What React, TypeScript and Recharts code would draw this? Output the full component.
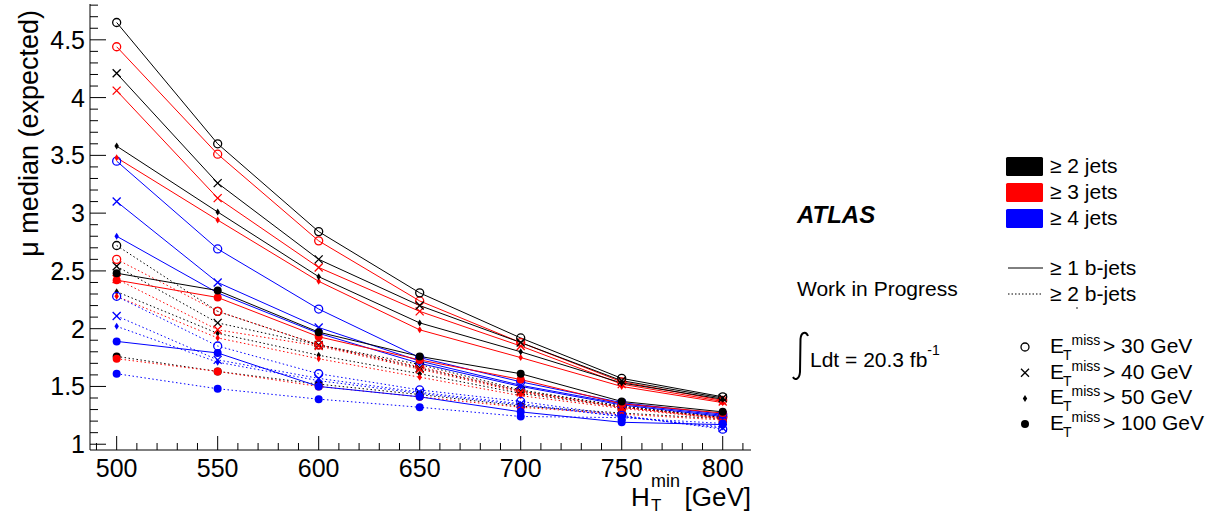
import React from 'react';
import { LineChart, Line, XAxis, YAxis } from 'recharts';

// HT^min points (GeV)
const htMin = [500, 550, 600, 650, 700, 750, 800];

// >= 2 jets, >= 1 b-jets
const j2b1Met30 = [4.65, 3.60, 2.84, 2.31, 1.92, 1.57, 1.41];
const j2b1Met40 = [4.21, 3.26, 2.60, 2.20, 1.88, 1.55, 1.40];
const j2b1Met50 = [3.58, 3.01, 2.45, 2.05, 1.80, 1.53, 1.39];
const j2b1Met100 = [2.48, 2.33, 1.97, 1.76, 1.61, 1.37, 1.28];

// >= 3 jets, >= 1 b-jets
const j3b1Met30 = [4.44, 3.51, 2.76, 2.24, 1.88, 1.54, 1.38];
const j3b1Met40 = [4.06, 3.13, 2.53, 2.15, 1.85, 1.52, 1.37];
const j3b1Met50 = [3.48, 2.94, 2.41, 1.99, 1.75, 1.50, 1.36];
const j3b1Met100 = [2.42, 2.27, 1.93, 1.73, 1.56, 1.35, 1.27];

// >= 4 jets, >= 1 b-jets
const j4b1Met30 = [3.45, 2.69, 2.17, 1.75, 1.54, 1.36, 1.26];
const j4b1Met40 = [3.10, 2.40, 2.01, 1.72, 1.51, 1.35, 1.25];
const j4b1Met50 = [2.80, 2.31, 1.96, 1.70, 1.50, 1.34, 1.24];
const j4b1Met100 = [1.89, 1.79, 1.50, 1.41, 1.28, 1.19, 1.17];

// >= 2 jets, >= 2 b-jets
const j2b2Met30 = [2.72, 2.15, 1.86, 1.69, 1.47, 1.33, 1.24];
const j2b2Met40 = [2.54, 2.05, 1.86, 1.66, 1.46, 1.33, 1.23];
const j2b2Met50 = [2.32, 1.96, 1.77, 1.61, 1.44, 1.32, 1.23];
const j2b2Met100 = [1.76, 1.63, 1.52, 1.43, 1.33, 1.27, 1.22];

// >= 3 jets, >= 2 b-jets
const j3b2Met30 = [2.60, 2.15, 1.86, 1.67, 1.46, 1.32, 1.23];
const j3b2Met40 = [2.43, 1.99, 1.85, 1.65, 1.45, 1.32, 1.22];
const j3b2Met50 = [2.28, 1.92, 1.74, 1.58, 1.42, 1.31, 1.22];
const j3b2Met100 = [1.74, 1.63, 1.50, 1.41, 1.32, 1.26, 1.21];

// >= 4 jets, >= 2 b-jets
const j4b2Met30 = [2.28, 1.85, 1.61, 1.47, 1.37, 1.25, 1.13];
const j4b2Met40 = [2.11, 1.73, 1.57, 1.45, 1.35, 1.24, 1.14];
const j4b2Met50 = [2.02, 1.71, 1.55, 1.44, 1.34, 1.24, 1.15];
const j4b2Met100 = [1.61, 1.48, 1.39, 1.32, 1.24, 1.23, 1.18];

const xMajor = [500, 550, 600, 650, 700, 750, 800];
const yMajor = [1, 1.5, 2, 2.5, 3, 3.5, 4, 4.5];

const jetLabels = ['≥ 2 jets', '≥ 3 jets', '≥ 4 jets'];
const bLabels = ['≥ 1 b-jets', '≥ 2 b-jets'];
const metLabels = ['> 30 GeV', '> 40 GeV', '> 50 GeV', '> 100 GeV'];

const BLACK = '#000000';
const RED = '#ff0000';
const BLUE = '#0000ff';

type MarkerKind = 'circle' | 'cross' | 'diamond' | 'dot';

const series: { key: string; values: number[]; color: string; dotted: boolean; marker: MarkerKind }[] = [
  { key: 'j2b2m30', values: j2b2Met30, color: BLACK, dotted: true, marker: 'circle' },
  { key: 'j2b2m40', values: j2b2Met40, color: BLACK, dotted: true, marker: 'cross' },
  { key: 'j2b2m50', values: j2b2Met50, color: BLACK, dotted: true, marker: 'diamond' },
  { key: 'j2b2m100', values: j2b2Met100, color: BLACK, dotted: true, marker: 'dot' },
  { key: 'j3b2m30', values: j3b2Met30, color: RED, dotted: true, marker: 'circle' },
  { key: 'j3b2m40', values: j3b2Met40, color: RED, dotted: true, marker: 'cross' },
  { key: 'j3b2m50', values: j3b2Met50, color: RED, dotted: true, marker: 'diamond' },
  { key: 'j3b2m100', values: j3b2Met100, color: RED, dotted: true, marker: 'dot' },
  { key: 'j4b2m30', values: j4b2Met30, color: BLUE, dotted: true, marker: 'circle' },
  { key: 'j4b2m40', values: j4b2Met40, color: BLUE, dotted: true, marker: 'cross' },
  { key: 'j4b2m50', values: j4b2Met50, color: BLUE, dotted: true, marker: 'diamond' },
  { key: 'j4b2m100', values: j4b2Met100, color: BLUE, dotted: true, marker: 'dot' },
  { key: 'j4b1m30', values: j4b1Met30, color: BLUE, dotted: false, marker: 'circle' },
  { key: 'j4b1m40', values: j4b1Met40, color: BLUE, dotted: false, marker: 'cross' },
  { key: 'j4b1m50', values: j4b1Met50, color: BLUE, dotted: false, marker: 'diamond' },
  { key: 'j4b1m100', values: j4b1Met100, color: BLUE, dotted: false, marker: 'dot' },
  { key: 'j3b1m30', values: j3b1Met30, color: RED, dotted: false, marker: 'circle' },
  { key: 'j3b1m40', values: j3b1Met40, color: RED, dotted: false, marker: 'cross' },
  { key: 'j3b1m50', values: j3b1Met50, color: RED, dotted: false, marker: 'diamond' },
  { key: 'j3b1m100', values: j3b1Met100, color: RED, dotted: false, marker: 'dot' },
  { key: 'j2b1m30', values: j2b1Met30, color: BLACK, dotted: false, marker: 'circle' },
  { key: 'j2b1m40', values: j2b1Met40, color: BLACK, dotted: false, marker: 'cross' },
  { key: 'j2b1m50', values: j2b1Met50, color: BLACK, dotted: false, marker: 'diamond' },
  { key: 'j2b1m100', values: j2b1Met100, color: BLACK, dotted: false, marker: 'dot' },
];

const data = htMin.map((ht, i) => {
  const row: Record<string, number> = { ht };
  series.forEach((s) => {
    row[s.key] = s.values[i];
  });
  return row;
});

// frame of the plot (pixels)
const W = 1208;
const H = 515;
const PLOT = { left: 90, right: 751, top: 4, bottom: 450 };
const FONT = '"Liberation Sans", Arial, Helvetica, sans-serif';

// minor ticks every 10 GeV / every 0.1
const xTicks: number[] = [];
for (let v = 490; v <= 810; v += 10) xTicks.push(v);
const yTicks: number[] = [];
for (let i = 10; i <= 48; i++) yTicks.push(i / 10);
const isYMajor = (v: number) => yMajor.some((m) => Math.abs(m - v) < 1e-6);

function Marker({ cx, cy, kind, color }: { cx?: number; cy?: number; kind: MarkerKind; color: string }) {
  if (cx == null || cy == null) return null;
  if (kind === 'circle') return <circle cx={cx} cy={cy} r={4} fill="none" stroke={color} strokeWidth={1.3} />;
  if (kind === 'cross')
    return (
      <path
        d={`M${cx - 4},${cy - 4}L${cx + 4},${cy + 4}M${cx - 4},${cy + 4}L${cx + 4},${cy - 4}`}
        stroke={color}
        strokeWidth={1.3}
      />
    );
  if (kind === 'diamond')
    return <path d={`M${cx},${cy - 3.5}L${cx + 2.2},${cy}L${cx},${cy + 3.5}L${cx - 2.2},${cy}Z`} fill={color} />;
  return <circle cx={cx} cy={cy} r={4} fill={color} />;
}

const BottomTick = (props: any) => {
  const { x, payload } = props;
  const major = xMajor.includes(payload.value);
  return (
    <g>
      <line x1={x} x2={x} y1={PLOT.bottom} y2={PLOT.bottom - (major ? 14 : 7)} stroke="#000" />
      {major && (
        <text x={x} y={477} textAnchor="middle" fontSize={25} fill="#000" fontFamily={FONT}>
          {payload.value}
        </text>
      )}
    </g>
  );
};

const TopTick = (props: any) => {
  const { x, payload } = props;
  const major = xMajor.includes(payload.value);
  return <line x1={x} x2={x} y1={PLOT.top} y2={PLOT.top + (major ? 14 : 7)} stroke="#000" />;
};

const LeftTick = (props: any) => {
  const { y, payload } = props;
  const major = isYMajor(payload.value);
  return (
    <g>
      <line x1={PLOT.left} x2={PLOT.left + (major ? 16 : 8)} y1={y} y2={y} stroke="#000" />
      {major && (
        <text x={85} y={y + 9} textAnchor="end" fontSize={25} fill="#000" fontFamily={FONT}>
          {payload.value}
        </text>
      )}
    </g>
  );
};

const RightTick = (props: any) => {
  const { y, payload } = props;
  const major = isYMajor(payload.value);
  return <line x1={PLOT.right} x2={PLOT.right - (major ? 16 : 8)} y1={y} y2={y} stroke="#000" />;
};

function Annotations() {
  const legendX = 1050;
  return (
    <svg width={W} height={H} style={{ position: 'absolute', left: 0, top: 0, pointerEvents: 'none' }} fontFamily={FONT}>
      {/* y axis title */}
      <text x={38} y={10} transform="rotate(-90 38 10)" textAnchor="end" fontSize={27} fill="#000">
        μ median (expected)
      </text>
      {/* x axis title: H_T^min [GeV] */}
      <text x={631} y={506} fontSize={26} fill="#000">H</text>
      <text x={651} y={511} fontSize={17} fill="#000">T</text>
      <text x={651} y={487} fontSize={18} fill="#000">min</text>
      <text x={751} y={506} textAnchor="end" fontSize={26} fill="#000">[GeV]</text>

      <text x={797} y={223} fontSize={24} fontWeight="bold" fontStyle="italic" fill="#000">
        ATLAS
      </text>
      <text x={797} y={296} fontSize={21} fill="#000">
        Work in Progress
      </text>
      <path
        d="M808,336 C806,331 801,332 800.5,339 L800,372 C799.5,379 795,381 793,377"
        fill="none"
        stroke="#000"
        strokeWidth={2}
      />
      <text x={810} y={367} fontSize={21} fill="#000">
        Ldt = 20.3 fb
        <tspan fontSize={14} dy={-12}>-1</tspan>
      </text>

      {[BLACK, RED, BLUE].map((c, i) => (
        <g key={c}>
          <rect x={1006} y={157 + i * 26} width={37} height={19} rx={1.5} fill={c} />
          <text x={legendX} y={173 + i * 26} fontSize={21} fill="#000">
            {jetLabels[i]}
          </text>
        </g>
      ))}

      <line x1={1008} x2={1043} y1={268} y2={268} stroke="#000" strokeWidth={1} />
      <text x={legendX} y={275} fontSize={21} fill="#000">
        {bLabels[0]}
      </text>
      <line x1={1008} x2={1043} y1={294} y2={294} stroke="#000" strokeWidth={1} strokeDasharray="1.5 2" />
      <text x={legendX} y={301} fontSize={21} fill="#000">
        {bLabels[1]}
      </text>
      <circle cx={1077} cy={308} r={0.8} fill="#000" />

      {(['circle', 'cross', 'diamond', 'dot'] as MarkerKind[]).map((k, i) => {
        const base = 353 + i * 25.7;
        return (
          <g key={k}>
            <Marker cx={1025} cy={base - 6} kind={k} color="#000" />
            <text x={legendX} y={base} fontSize={21} fill="#000">E</text>
            <text x={legendX + 13} y={base + 7} fontSize={14} fill="#000">T</text>
            <text x={legendX + 21.5} y={base - 8} fontSize={14} fill="#000">miss</text>
            <text x={legendX + 53} y={base} fontSize={21} fill="#000">{metLabels[i]}</text>
          </g>
        );
      })}
    </svg>
  );
}

export default function App() {
  return (
    <div style={{ position: 'absolute', left: 0, top: 0, width: W, height: H, background: '#fff', fontFamily: FONT }}>
      <LineChart
        width={W}
        height={H}
        data={data}
        margin={{ top: PLOT.top, right: W - PLOT.right, bottom: H - PLOT.bottom - 30, left: 0 }}
      >
        <XAxis
          xAxisId="bottom"
          dataKey="ht"
          type="number"
          domain={[486.8, 814]}
          allowDataOverflow
          ticks={xTicks}
          interval={0}
          height={30}
          axisLine={{ stroke: '#000', strokeWidth: 1 }}
          tickLine={false}
          tick={BottomTick}
        />
        <XAxis
          xAxisId="top"
          orientation="top"
          dataKey="ht"
          type="number"
          domain={[486.8, 814]}
          allowDataOverflow
          ticks={xTicks}
          interval={0}
          height={0}
          axisLine={{ stroke: '#000', strokeWidth: 1 }}
          tickLine={false}
          tick={TopTick}
        />
        <YAxis
          yAxisId="left"
          type="number"
          domain={[0.95, 4.81]}
          allowDataOverflow
          ticks={yTicks}
          interval={0}
          width={PLOT.left}
          axisLine={{ stroke: '#000', strokeWidth: 1 }}
          tickLine={false}
          tick={LeftTick}
        />
        <YAxis
          yAxisId="right"
          orientation="right"
          type="number"
          domain={[0.95, 4.81]}
          allowDataOverflow
          ticks={yTicks}
          interval={0}
          width={0}
          axisLine={{ stroke: '#000', strokeWidth: 1 }}
          tickLine={false}
          tick={RightTick}
        />
        {series.map((s) => (
          <Line
            key={s.key}
            xAxisId="bottom"
            yAxisId="left"
            type="linear"
            dataKey={s.key}
            stroke={s.color}
            strokeWidth={1}
            strokeDasharray={s.dotted ? '1.5 2.5' : undefined}
            dot={(p: any) => <Marker key={`${s.key}-${p.index}`} cx={p.cx} cy={p.cy} kind={s.marker} color={s.color} />}
            activeDot={false}
            isAnimationActive={false}
          />
        ))}
      </LineChart>
      <Annotations />
    </div>
  );
}
